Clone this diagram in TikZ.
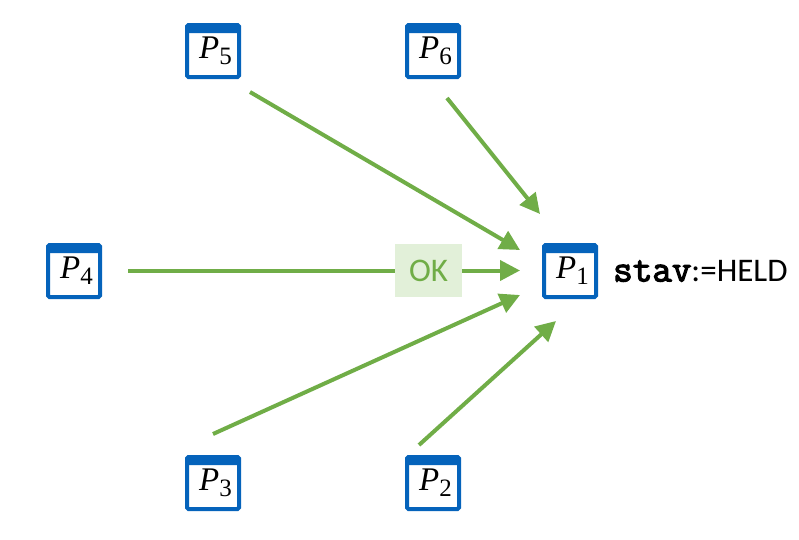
\documentclass[tikz,border=0pt]{standalone}
\usepackage{fontspec}
\setmainfont{Carlito}
\newfontfamily\procfont{Liberation Serif}
\newfontfamily\statefont[FakeBold=3]{Latin Modern Mono}
\usetikzlibrary{arrows.meta,positioning}
\definecolor{procblue}{HTML}{0563BB}
\definecolor{okgreen}{HTML}{70AD47}
\definecolor{okfill}{HTML}{E2F0D9}
\newcommand{\procname}[1]{\hspace{5pt}\raisebox{-2pt}{{\itshape P}\raisebox{-6pt}{\fontsize{25}{25}\selectfont #1}}}

\begin{document}
\begin{tikzpicture}[
    x=1pt, y=1pt,
    on grid,
    >={Triangle[length=20pt,width=20pt]},
    proc/.style={
        rectangle, draw=procblue, line width=4pt,
        rounded corners=1.5pt, fill=white,
        minimum size=52pt, inner sep=0pt,
        font=\procfont\fontsize{33}{33}\selectfont,
        path picture={
            \fill[procblue] (path picture bounding box.north west) rectangle
                ([yshift=-8pt]path picture bounding box.north east);
        }
    },
    arrow/.style={->, draw=okgreen, line width=4pt},
    okbox/.style={
        rectangle, fill=okfill, text=okgreen, inner sep=0pt,
        minimum width=67pt, minimum height=53pt,
        font=\fontsize{33}{33}\selectfont
    },
]
  \path[use as bounding box] (0,0) rectangle (799,-539);

  % Processes
  \node (P4) [proc] at (74,-271) {\procname{4}};
  \node (P5) [proc, above right=220pt and 139pt of P4] {\procname{5}};
  \node (P6) [proc, right=220pt of P5] {\procname{6}};
  \node (P3) [proc, below right=212pt and 139pt of P4] {\procname{3}};
  \node (P2) [proc, right=220pt of P3] {\procname{2}};
  \node (P1) [proc, right=496pt of P4] {\procname{1}};

  % Message on the way from P4
  \node (ok) [okbox, right=354.5pt of P4, yshift=.5pt] {OK};

  % State of P1
  \node (state) [right=15pt of P1.east, anchor=west, inner sep=0pt,
                 font=\fontsize{33}{33}\selectfont]
      {{\statefont\fontsize{38}{38}\selectfont stav}:=HELD};

  % Arrows
  \draw[arrow] ([shift={(37,-13)}]P5.south) -- ([shift={(-22,21)}]P1.west);
  \draw[arrow] ([shift={(14,-19)}]P6.south) -- ([shift={(-30,29)}]P1.north);
  \draw[draw=okgreen, line width=4pt] ([xshift=26pt,yshift=.5pt]P4.east) -- (ok.west);
  \draw[arrow] (ok.east) -- ([xshift=-22pt,yshift=.5pt]P1.west);
  \draw[arrow] ([shift={(0,21)}]P3.north) -- ([shift={(-22,-24)}]P1.west);
  \draw[arrow] ([shift={(-14,10)}]P2.north) -- ([shift={(-14,-22)}]P1.south);
\end{tikzpicture}
\end{document}
